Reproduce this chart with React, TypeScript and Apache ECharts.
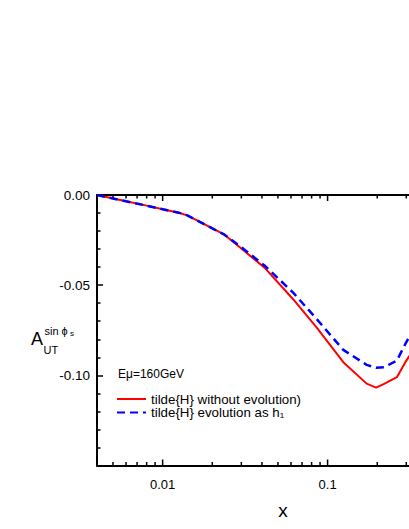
import React, { useEffect, useRef } from "react";
import * as echarts from "echarts";

const xValues = [0.004, 0.006, 0.008, 0.01, 0.0125, 0.0141, 0.018, 0.0237, 0.03, 0.0416, 0.0618, 0.0857, 0.1245, 0.1725, 0.1967, 0.22, 0.263, 0.296, 0.32];
const redValues = [0, -0.0035, -0.0059, -0.0079, -0.0098, -0.0113, -0.0163, -0.022, -0.0297, -0.0404, -0.0578, -0.0734, -0.0927, -0.1046, -0.1068, -0.1047, -0.101, -0.0927, -0.088];
const blueValues = [0, -0.0035, -0.0059, -0.0079, -0.0098, -0.0113, -0.0163, -0.022, -0.029, -0.0392, -0.0541, -0.0687, -0.0859, -0.0942, -0.0958, -0.0955, -0.0918, -0.0826, -0.077];
const xMajorTicks = [0.01, 0.1];
const xMinorTicks = [0.005, 0.006, 0.007, 0.008, 0.009, 0.02, 0.03, 0.04, 0.05, 0.06, 0.07, 0.08, 0.09, 0.2, 0.3, 0.4, 0.5, 0.6];
const seriesNames = ["tilde{H} without evolution)", "tilde{H} evolution as h\u2081"];
const X_MIN = 0.004;
const X_MAX = 0.7;
const Y_MIN = -0.15;
const Y_MAX = 0;

const FONT = "'Liberation Sans', Arial, sans-serif";

export default function App() {
  const ref = useRef<HTMLDivElement>(null);
  useEffect(() => {
    if (!ref.current) return;
    const chart = echarts.init(ref.current, undefined, { renderer: "svg" });
    const tickData = [
      ...xMajorTicks.map((v) => [v, 0, 1]),
      ...xMinorTicks.map((v) => [v, 0, 0]),
    ];
    const option: any = {
      animation: false,
      backgroundColor: "#fff",
      grid: { left: 97, top: 195, width: 370, height: 270.5, containLabel: false },
      xAxis: [
        {
          type: "log",
          min: X_MIN,
          max: X_MAX,
          position: "bottom",
          axisLine: { show: true, onZero: false, lineStyle: { color: "#000", width: 2 } },
          axisTick: { show: false },
          splitLine: { show: false },
          axisLabel: {
            color: "#000",
            fontSize: 13,
            fontFamily: FONT,
            margin: 12,
            formatter: (v: number) => {
              const l = Math.log10(v);
              if (Math.abs(l - Math.round(l)) > 1e-6) return "";
              const e = -Math.round(l);
              return e > 0 ? v.toFixed(e) : String(Math.round(v));
            },
          },
        },
        {
          type: "log",
          min: X_MIN,
          max: X_MAX,
          position: "top",
          axisLine: { show: true, onZero: false, lineStyle: { color: "#000", width: 2 } },
          axisTick: { show: false },
          splitLine: { show: false },
          axisLabel: { show: false },
        },
      ],
      yAxis: {
        type: "value",
        min: Y_MIN,
        max: Y_MAX,
        interval: 0.05,
        axisLine: { show: true, onZero: false, lineStyle: { color: "#000", width: 2 } },
        axisTick: { show: true, inside: true, length: 6, lineStyle: { color: "#000", width: 1.5 } },
        minorTick: { show: true, splitNumber: 5, length: 3.5, lineStyle: { color: "#000", width: 1.5 } },
        splitLine: { show: false },
        axisLabel: {
          color: "#000",
          fontSize: 13.5,
          fontFamily: FONT,
          margin: 7,
          formatter: (v: number) => (v < Y_MIN + 1e-6 ? "" : v.toFixed(2)),
        },
      },
      legend: {
        data: seriesNames,
        orient: "vertical",
        left: 116,
        top: 392.5,
        padding: 0,
        itemWidth: 29,
        itemHeight: 13,
        itemGap: 0.5,
        itemStyle: { opacity: 0 },
        textStyle: { color: "#000", fontSize: 13.3, fontFamily: FONT },
      },
      graphic: [
        { type: "text", left: 118, top: 367.5, style: { text: "E\u03bc=160GeV", font: `12px ${FONT}`, fill: "#000" } },
        { type: "text", x: 31, y: 339, style: { text: "A", font: `18px ${FONT}`, fill: "#000", textVerticalAlign: "middle" } },
        { type: "text", x: 43.5, y: 349.5, style: { text: "UT", font: `11px ${FONT}`, fill: "#000", textVerticalAlign: "middle" } },
        { type: "text", x: 44.5, y: 330.5, style: { text: "sin \u03d5", font: `11px ${FONT}`, fill: "#000", textVerticalAlign: "middle" } },
        { type: "text", x: 70, y: 333.5, style: { text: "s", font: `8px ${FONT}`, fill: "#000", textVerticalAlign: "middle" } },
        { type: "text", x: 283, y: 510, style: { text: "x", font: `19px ${FONT}`, fill: "#000", textAlign: "center", textVerticalAlign: "middle" } },
      ],
      series: [
        {
          name: seriesNames[0],
          type: "line",
          data: xValues.map((x, i) => [x, redValues[i]]),
          symbol: "none",
          smooth: false,
          lineStyle: { color: "#ff0000", width: 2 },
          itemStyle: { color: "#ff0000" },
          z: 3,
        },
        {
          name: seriesNames[1],
          type: "line",
          data: xValues.map((x, i) => [x, blueValues[i]]),
          symbol: "none",
          smooth: false,
          lineStyle: { color: "#0000ff", width: 2.5, type: [8, 5] },
          itemStyle: { color: "#0000ff" },
          z: 4,
        },
        {
          name: "xticks",
          type: "custom",
          clip: false,
          silent: true,
          encode: { x: 0, y: 1 },
          data: tickData,
          renderItem: (_p: any, api: any) => {
            const xv = api.value(0);
            const major = api.value(2) === 1;
            const len = major ? 6 : 3.5;
            const b = api.coord([xv, Y_MIN]);
            const t = api.coord([xv, Y_MAX]);
            const st = { stroke: "#000", lineWidth: 1.5 };
            return {
              type: "group",
              children: [
                { type: "line", shape: { x1: b[0], y1: b[1], x2: b[0], y2: b[1] - len }, style: st },
                { type: "line", shape: { x1: t[0], y1: t[1], x2: t[0], y2: t[1] + len }, style: st },
              ],
            };
          },
        },
      ],
    };
    chart.setOption(option);
    return () => chart.dispose();
  }, []);
  return (
    <div style={{ position: "absolute", left: 0, top: 0, width: 409, height: 529, overflow: "hidden", background: "#fff" }}>
      <div ref={ref} style={{ width: 480, height: 529 }} />
    </div>
  );
}
